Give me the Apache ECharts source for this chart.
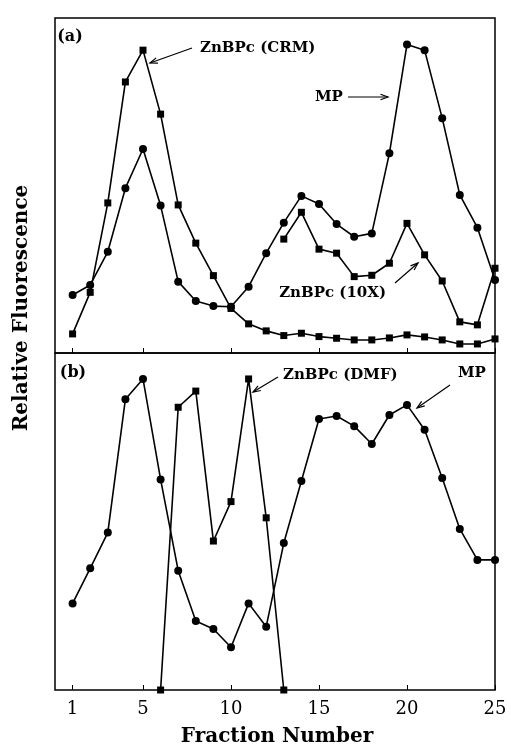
<!DOCTYPE html>
<html>
<head>
<meta charset="utf-8">
<script src="https://cdn.jsdelivr.net/npm/echarts@6/dist/echarts.min.js"></script>
<style>
    html, body { margin: 0; padding: 0; background: #fff; }
    #chart { width: 511px; height: 750px; }
</style>
</head>
<body>
<div id="chart"></div>
<script>
// fraction numbers on the shared x axis
var fractions = [1, 2, 3, 4, 5, 6, 7, 8, 9, 10, 11, 12, 13, 14, 15, 16, 17, 18, 19, 20, 21, 22, 23, 24, 25];
var xTicks = [1, 5, 10, 15, 20, 25];

// panel (a), relative units 0-100
var crmA = [5.7, 18.1, 44.8, 80.9, 90.4, 71.3, 44.2, 32.8, 23.1, 13.3, 8.7, 6.6, 5.2,
    5.9, 4.9, 4.4, 3.9, 3.9, 4.5, 5.4, 4.8, 3.9, 2.7, 2.7, 4.2];
var mpA = [17.3, 20.3, 30.2, 49.2, 60.9, 44.0, 21.3, 15.5, 14.0, 13.8, 19.8, 29.8, 38.9,
    46.9, 44.5, 38.5, 34.7, 35.7, 59.6, 92.1, 90.4, 70.1, 47.2, 37.4, 21.8];
var tenXA = [null, null, null, null, null, null, null, null, null, null, null, null, 34.0,
    42.0, 31.0, 29.8, 22.8, 23.2, 26.8, 38.7, 29.3, 21.5, 9.3, 8.4, 25.3];

// panel (b)
var mpB = [25.7, 36.1, 46.7, 86.3, 92.3, 62.5, 35.4, 20.5, 18.1, 12.7, 25.7, 18.8, 43.6,
    62.0, 80.4, 81.3, 78.3, 73.0, 81.6, 84.6, 77.2, 62.9, 47.8, 38.6, 38.6];
var dmfB = [null, null, null, null, null, 0, 83.9, 88.7, 44.2, 55.9, 92.3, 51.1, 0,
    null, null, null, null, null, null, null, null, null, null, null, null];

var serif = '"DejaVu Serif", "Liberation Serif", serif';

function pairs(vals) {
    var out = [];
    vals.forEach(function (v, i) {
        if (v !== null) out.push([fractions[i], v]);
    });
    return out;
}

function lineSeries(name, vals, symbol, idx) {
    return {
        name: name,
        type: 'line',
        xAxisIndex: idx,
        yAxisIndex: idx,
        data: pairs(vals),
        symbol: symbol,
        symbolSize: symbol === 'rect' ? 7 : 8,
        showSymbol: true,
        itemStyle: {color: '#000'},
        lineStyle: {color: '#000', width: 1.6},
        animation: false
    };
}

// simple arrow: shaft plus an open head at (x2, y2)
function arrow(x1, y1, x2, y2) {
    var a = Math.atan2(y2 - y1, x2 - x1);
    var h = 8, s = 0.35;
    return [{
        type: 'line',
        shape: {x1: x1, y1: y1, x2: x2, y2: y2},
        style: {stroke: '#000', lineWidth: 1.2}
    }, {
        type: 'polyline',
        shape: {points: [
            [x2 - h * Math.cos(a - s), y2 - h * Math.sin(a - s)],
            [x2, y2],
            [x2 - h * Math.cos(a + s), y2 - h * Math.sin(a + s)]
        ]},
        style: {stroke: '#000', lineWidth: 1.2, fill: null}
    }];
}

function label(text, x, y, align, size) {
    return {
        type: 'text',
        style: {
            text: text, x: x, y: y, align: align || 'left', verticalAlign: 'middle',
            font: 'bold ' + (size || 15) + 'px ' + serif, fill: '#000'
        }
    };
}

var chart = echarts.init(document.getElementById('chart'));

var xBase = {
    type: 'value', min: 0, max: 25,
    axisLine: {show: false},
    splitLine: {show: false},
    axisTick: {show: true, inside: true, length: 5, customValues: xTicks, lineStyle: {color: '#000'}}
};
var yBase = {
    type: 'value', min: 0, max: 100,
    axisLine: {show: false}, axisTick: {show: false},
    axisLabel: {show: false}, splitLine: {show: false}
};

var graphics = [
    label('(a)', 70, 37, 'center', 16),
    label('ZnBPc (CRM)', 200, 48),
    label('MP', 315, 97),
    label('ZnBPc (10X)', 386, 293, 'right'),
    label('(b)', 73, 373, 'center', 16),
    label('ZnBPc (DMF)', 283, 375),
    label('MP', 458, 373),
    {
        type: 'text', x: 22, y: 308, rotation: Math.PI / 2,
        style: {text: 'Relative Fluorescence', align: 'center', verticalAlign: 'middle',
            font: 'bold 20px ' + serif, fill: '#000'}
    },
    label('Fraction Number', 277, 737, 'center', 20)
];
graphics = graphics
    .concat(arrow(192, 48, 150, 63))
    .concat(arrow(348, 97, 388, 97))
    .concat(arrow(395, 283, 418, 263))
    .concat(arrow(278, 377, 253, 392))
    .concat(arrow(450, 385, 417, 408));

var option = {
    backgroundColor: '#fff',
    grid: [
        {left: 55, right: 16, top: 18, height: 335, show: true, borderColor: '#000', borderWidth: 1.5},
        {left: 55, right: 16, top: 353, height: 337, show: true, borderColor: '#000', borderWidth: 1.5}
    ],
    xAxis: [
        Object.assign({}, xBase, {gridIndex: 0, axisLabel: {show: false}}),
        Object.assign({}, xBase, {
            gridIndex: 1,
            axisLabel: {
                show: true, customValues: xTicks, margin: 10,
                color: '#000', fontFamily: serif, fontSize: 18
            }
        })
    ],
    yAxis: [
        Object.assign({}, yBase, {gridIndex: 0}),
        Object.assign({}, yBase, {gridIndex: 1})
    ],
    series: [
        lineSeries('ZnBPc (CRM)', crmA, 'rect', 0),
        lineSeries('MP', mpA, 'circle', 0),
        lineSeries('ZnBPc (10X)', tenXA, 'rect', 0),
        lineSeries('MP', mpB, 'circle', 1),
        lineSeries('ZnBPc (DMF)', dmfB, 'rect', 1)
    ],
    graphic: graphics
};
chart.setOption(option);
</script>
</body>
</html>
